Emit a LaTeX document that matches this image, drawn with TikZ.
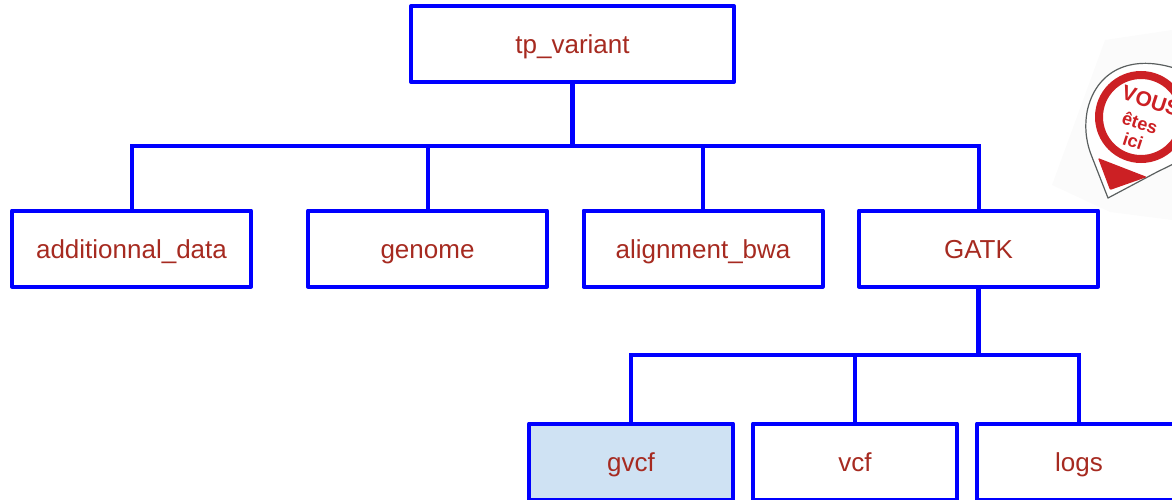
\documentclass[tikz,border=0pt]{standalone}
\usepackage{fontspec}
\setmainfont{Liberation Sans}
\definecolor{boxblue}{RGB}{0,0,255}
\definecolor{labelred}{RGB}{166,42,32}
\definecolor{hilite}{RGB}{207,226,243}
\definecolor{badgered}{RGB}{204,32,36}
\definecolor{badgeline}{RGB}{90,95,95}
\tikzset{
  dirbox/.style={draw=boxblue,line width=4pt,line join=round,minimum width=#1,minimum height=76pt,inner sep=0pt,anchor=center,text=labelred,text height=22pt,text depth=2pt,font=\fontsize{26}{30}\selectfont},
  dirbox/.default=239pt,
  tree/.style={draw=boxblue,line width=4pt,line join=miter},
  trunk/.style={draw=boxblue,line width=5pt},
  badgetext/.style={text=badgered,rotate=-18,inner sep=0pt}
}
\begin{document}
\begin{tikzpicture}[x=1pt,y=-1pt]
\useasboundingbox (0,0) rectangle (1172,500);
\clip (0,0) rectangle (1172,500);
% badge
\fill[black!1.5] (1052,185) -- (1105,40) -- (1172,30) -- (1172,220) -- (1110,212) -- cycle;
\draw[badgeline,fill=white,line width=1.2pt,line join=round]
  (1180,70) .. controls (1130,52) and (1095,72) .. (1087,112)
  .. controls (1084,130) and (1087,145) .. (1092,157)
  -- (1108,198) -- (1157,172) .. controls (1165,168) and (1172,165) .. (1180,160) -- cycle;
\draw[badgered,line width=8pt] (1141,117) circle (42);
\fill[badgered,rounded corners=1pt] (1098,158) -- (1147,177) -- (1110,190) -- cycle;
\node[badgetext,font=\bfseries\fontsize{21}{24}\selectfont] (vous) at (1151,101) {VOUS};
\node[badgetext,font=\bfseries\fontsize{18}{20}\selectfont] (etes) at (1140,123) {êtes};
\node[badgetext,font=\bfseries\fontsize{18}{20}\selectfont] (ici) at (1133,141) {ici};
% boxes
\node[dirbox=323pt] (root) at (572.5,44) {tp\_variant};
\node[dirbox] (add) at (131.5,248.5) {additionnal\_data};
\node[dirbox] (gen) at (427.5,248.5) {genome};
\node[dirbox] (ali) at (703,248.5) {alignment\_bwa};
\node[dirbox] (gatk) at (978.5,248.5) {GATK};
\node[dirbox=204pt,fill=hilite] (gvcf) at (631,461.5) {gvcf};
\node[dirbox=204pt] (vcf) at (855,461.5) {vcf};
\node[dirbox=204pt] (logs) at (1079,461.5) {logs};
% connectors
\coordinate (busa) at (572.5,146);
\coordinate (busb) at (978.5,355);
\draw[trunk] (root.south) -- (busa);
\draw[tree] (add.north) |- (busa);
\draw[tree] (gen.north) |- (busa);
\draw[tree] (ali.north) |- (busa);
\draw[tree] (gatk.north) |- (busa);
\draw[trunk] (gatk.south) -- (busb);
\draw[tree] (gvcf.north) |- (busb);
\draw[tree] (vcf.north) |- (busb);
\draw[tree] (logs.north) |- (busb);
\end{tikzpicture}
\end{document}
